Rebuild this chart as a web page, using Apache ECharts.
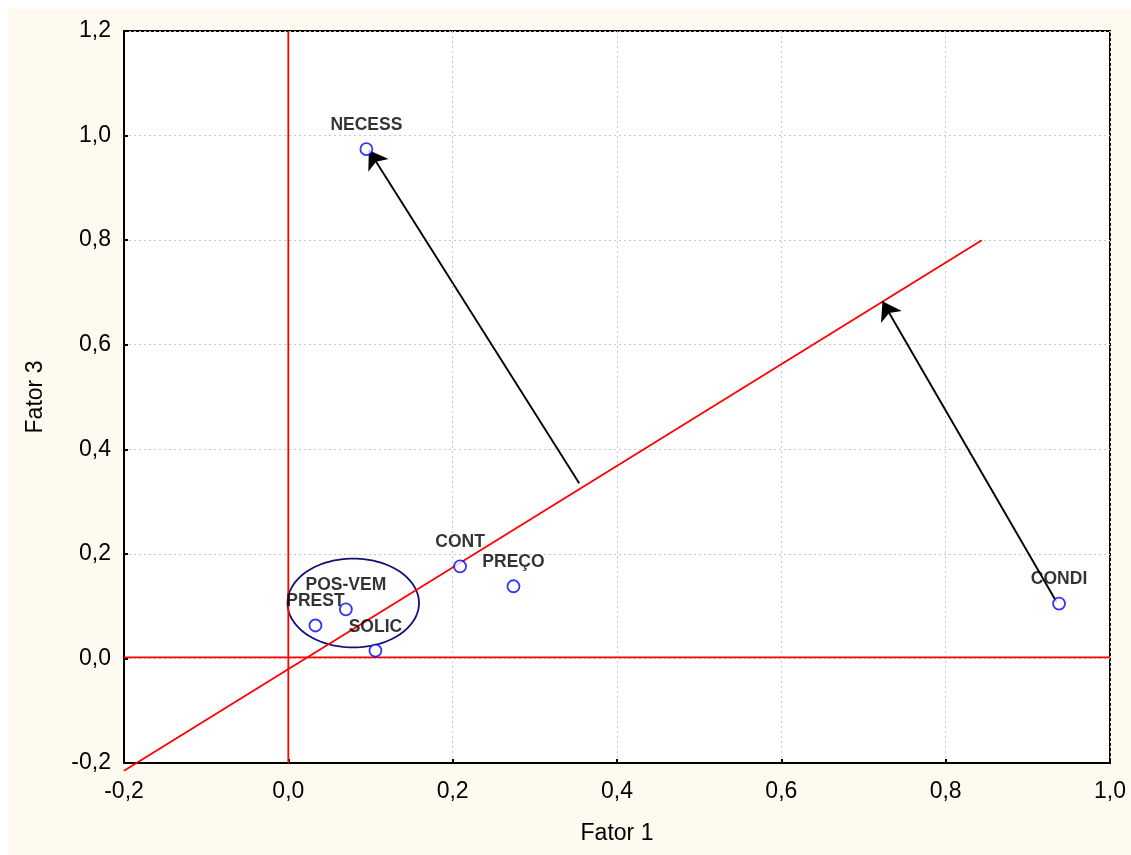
<!DOCTYPE html>
<html>
<head>
<meta charset="utf-8">
<title>Fator 1 x Fator 3</title>
<script src="https://cdn.jsdelivr.net/npm/echarts@6/dist/echarts.min.js"></script>
<style>
  html, body { margin: 0; padding: 0; background: #ffffff; }
  #chart { position: absolute; left: 8px; top: 9px; width: 1123px; height: 846px; }
</style>
</head>
<body>
<div id="chart"></div>
<script>
// Variable loadings on factors 1 and 3
const names   = ['NECESS', 'CONT', 'PREÇO', 'CONDI', 'POS-VEM', 'PREST', 'SOLIC'];
const fator1  = [0.095, 0.209, 0.274, 0.938, 0.070, 0.033, 0.106];
const fator3  = [0.974, 0.176, 0.138, 0.105, 0.094, 0.063, 0.015];

// Rotated reference axis and the two original axes
const rotatedAxis = [[-0.2, -0.215], [0.844, 0.800]];
const verticalAxis = [[0, 1.2], [0, -0.2]];
const horizontalAxis = [[-0.2, 0.002], [1.0, 0.002]];

// Rotation arrows (from -> to)
const arrows = [
  [[0.354, 0.335], [0.098, 0.972]],
  [[0.935, 0.108], [0.723, 0.683]]
];

// Group ellipse: centre x, centre y, radius x, radius y
const groupEllipse = [0.079, 0.106, 0.080, 0.085];

const xTicks = { min: -0.2, max: 1.0, step: 0.2 };
const yTicks = { min: -0.2, max: 1.2, step: 0.2 };

const FONT = 'Liberation Sans, Arial, sans-serif';
const comma = v => v.toFixed(1).replace('.', ',');

const chart = echarts.init(document.getElementById('chart'), null, { renderer: 'canvas' });

const axisCommon = {
  type: 'value',
  axisLine: { show: true, onZero: false, lineStyle: { color: '#000', width: 2 } },
  axisTick: { show: true, inside: true, length: 4, lineStyle: { color: '#000', width: 2 } },
  splitLine: { show: true, lineStyle: { color: '#c8c8c8', width: 1, type: [2, 3] } },
  axisLabel: { color: '#000', fontFamily: FONT, fontSize: 23, formatter: comma },
  nameLocation: 'middle',
  nameTextStyle: { color: '#000', fontFamily: FONT, fontSize: 23 }
};

const option = {
  backgroundColor: '#fefaf0',
  animation: false,
  grid: {
    left: 116, top: 22, right: 21, bottom: 92,
    show: true, backgroundColor: '#ffffff', borderColor: '#000', borderWidth: 2
  },
  xAxis: Object.assign({}, axisCommon, {
    min: xTicks.min, max: xTicks.max, interval: xTicks.step,
    name: 'Fator 1', nameGap: 59,
    axisLabel: Object.assign({}, axisCommon.axisLabel, { margin: 17 })
  }),
  yAxis: Object.assign({}, axisCommon, {
    min: yTicks.min, max: yTicks.max, interval: yTicks.step,
    name: 'Fator 3', nameGap: 77,
    axisLabel: Object.assign({}, axisCommon.axisLabel, { margin: 13 })
  }),
  series: [
    {
      type: 'custom',
      z: 2,
      silent: true,
      renderItem: function (params, api) {
        const c = api.coord([groupEllipse[0], groupEllipse[1]]);
        const s = api.size([groupEllipse[2], groupEllipse[3]]);
        const pts = [];
        for (let i = 0; i < 120; i++) {
          const t = (i / 120) * Math.PI * 2;
          pts.push([c[0] + s[0] * Math.cos(t), c[1] + s[1] * Math.sin(t)]);
        }
        return {
          type: 'polygon',
          shape: { points: pts },
          style: { fill: 'none', stroke: '#10107a', lineWidth: 1.8 }
        };
      },
      data: [groupEllipse]
    },
    {
      type: 'line', z: 3, silent: true, clip: false, symbol: 'none',
      lineStyle: { color: '#ff0000', width: 1.8 },
      data: verticalAxis
    },
    {
      type: 'line', z: 3, silent: true, clip: false, symbol: 'none',
      lineStyle: { color: '#ff0000', width: 1.8 },
      data: horizontalAxis
    },
    {
      type: 'line', z: 3, silent: true, clip: false, symbol: 'none',
      lineStyle: { color: '#ff0000', width: 1.8 },
      data: rotatedAxis
    },
    {
      type: 'lines',
      coordinateSystem: 'cartesian2d',
      z: 4, silent: true,
      symbol: ['none', 'arrow'],
      symbolSize: 18,
      lineStyle: { color: '#000', width: 1.9, opacity: 1 },
      itemStyle: { color: '#000' },
      data: arrows.map(a => ({ coords: a }))
    },
    {
      type: 'scatter',
      z: 5,
      symbol: 'circle',
      symbolSize: 12,
      itemStyle: { color: '#ffffff', borderColor: '#0000ff', borderWidth: 1.8 },
      label: {
        show: true, position: 'top', distance: 8,
        color: '#000', fontFamily: FONT, fontWeight: 'bold', fontSize: 17.5,
        formatter: p => names[p.dataIndex]
      },
      data: fator1.map((x, i) => [x, fator3[i]])
    }
  ]
};

chart.setOption(option);
</script>
</body>
</html>
